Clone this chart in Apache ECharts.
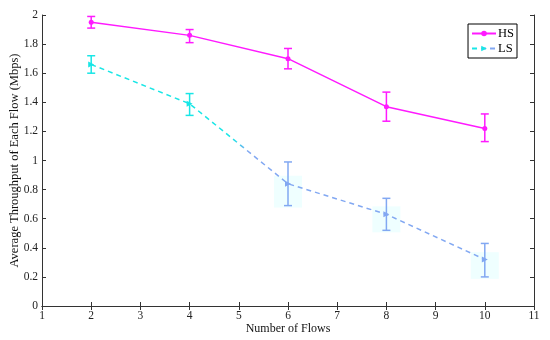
<!DOCTYPE html>
<html><head><meta charset="utf-8">
<script src="https://cdn.jsdelivr.net/npm/echarts@6/dist/echarts.min.js"></script>
<style>html,body{margin:0;padding:0;background:#fff}#c{width:550px;height:340px}</style>
</head><body><div id="c"></div>
<script>
const flows = [2, 4, 6, 8, 10];
const hsMean = [1.95, 1.86, 1.70, 1.37, 1.22];
const hsLow  = [1.91, 1.81, 1.63, 1.27, 1.13];
const hsHigh = [1.99, 1.90, 1.77, 1.47, 1.32];
const lsMean = [1.66, 1.39, 0.84, 0.63, 0.32];
const lsLow  = [1.60, 1.31, 0.69, 0.52, 0.20];
const lsHigh = [1.72, 1.46, 0.99, 0.74, 0.43];
const yTicks = [0, 0.2, 0.4, 0.6, 0.8, 1, 1.2, 1.4, 1.6, 1.8, 2];

const MAG = '#ff1aff', CY = '#19e6e6', BL = '#82a8f2';
const font = 'Liberation Serif, Times New Roman, serif';

function errData(low, high) { return flows.map((x, i) => [x, low[i], high[i]]); }
function makeRender(colorFn, glow) {
  return function (params, api) {
    const x = api.value(0), lo = api.value(1), hi = api.value(2);
    const pLo = api.coord([x, lo]), pHi = api.coord([x, hi]);
    const col = colorFn(x);
    const w = 4;
    const children = [];
    if (glow && x > 5) {
      const mid = api.coord([x, (lo + hi) / 2]);
      children.push({type:'rect', shape:{x:pLo[0]-14, y:mid[1]-8, width:28, height:pLo[1]-mid[1]+10}, style:{fill:'rgba(225,255,255,0.55)'}});
    }
    children.push(
      {type:'line', shape:{x1:pLo[0], y1:pLo[1], x2:pHi[0], y2:pHi[1]}, style:{stroke:col, lineWidth:1.5}},
      {type:'line', shape:{x1:pLo[0]-w, y1:pLo[1], x2:pLo[0]+w, y2:pLo[1]}, style:{stroke:col, lineWidth:1.5}},
      {type:'line', shape:{x1:pHi[0]-w, y1:pHi[1], x2:pHi[0]+w, y2:pHi[1]}, style:{stroke:col, lineWidth:1.5}}
    );
    return {type:'group', children};
  };
}

const lsGrad = new echarts.graphic.LinearGradient(0, 0, 1, 0, [
  {offset:0, color:CY}, {offset:0.36, color:CY}, {offset:0.40, color:BL}, {offset:1, color:BL}
]);

const chart = echarts.init(document.getElementById('c'));
const axisLine = {show:true, lineStyle:{color:'#333', width:1}};
const tick = {inside:true, length:4, lineStyle:{color:'#333'}};
chart.setOption({
  animation:false,
  textStyle:{fontFamily:font},
  grid:{left:42, right:16, top:15, bottom:34, containLabel:false, outerBoundsMode:'none'},
  legend:{
    data:[{name:'HS'},{name:'LS'}],
    orient:'vertical', right:33, top:24,
    itemWidth:24, itemHeight:7, itemGap:2,
    padding:[3,3,3,3],
    borderColor:'#000', borderWidth:1, backgroundColor:'#fff',
    textStyle:{fontFamily:font, fontSize:12.5, color:'#000', padding:[0,0,0,-3]}
  },
  xAxis:[
    {type:'value', min:1, max:11, interval:1, name:'Number of Flows', nameLocation:'middle', nameGap:17,
     nameMoveOverlap:false,
     nameTextStyle:{fontFamily:font, fontSize:12, color:'#111'},
     axisLine, axisTick:tick,
     axisLabel:{fontFamily:font, fontSize:11.5, color:'#222', margin:4}, splitLine:{show:false}},
    {type:'value', min:1, max:11, interval:1, position:'top',
     axisLine, axisTick:tick, axisLabel:{show:false}, splitLine:{show:false}}
  ],
  yAxis:[
    {type:'value', min:0, max:2, interval:0.2, name:'Average Throughput of Each Flow (Mbps)',
     nameLocation:'middle', nameGap:21, nameMoveOverlap:false,
     nameTextStyle:{fontFamily:font, fontSize:12.5, color:'#111'},
     axisLine, axisTick:tick,
     axisLabel:{fontFamily:font, fontSize:11.5, color:'#222', margin:4,
       formatter: v => { const t = yTicks.find(k => Math.abs(k - v) < 1e-6); return t === undefined ? '' : String(t); }},
     splitLine:{show:false}},
    {type:'value', min:0, max:2, interval:0.2, position:'right',
     axisLine, axisTick:tick, axisLabel:{show:false}, splitLine:{show:false}}
  ],
  series:[
    {name:'HS', type:'line', xAxisIndex:0, yAxisIndex:0, data:flows.map((x,i)=>[x,hsMean[i]]), color:MAG,
     symbol:'circle', symbolSize:5, lineStyle:{width:1.5, color:MAG}, itemStyle:{color:MAG}, z:3},
    {name:'LS', type:'line', xAxisIndex:0, yAxisIndex:0, data:flows.map((x,i)=>[x,lsMean[i]]), color:CY,
     symbol:'triangle', symbolRotate:-90, symbolSize:6, lineStyle:{width:1.5, type:[5,4], color:lsGrad},
     itemStyle:{color: p => (p.value && p.value[0] > 5) ? BL : CY}, z:3},
    {type:'custom', xAxisIndex:0, yAxisIndex:0, data:errData(hsLow, hsHigh), renderItem:makeRender(()=>MAG, false), z:2, silent:true},
    {type:'custom', xAxisIndex:0, yAxisIndex:0, data:errData(lsLow, lsHigh), renderItem:makeRender(x => x < 5 ? CY : BL, true), z:1, silent:true}
  ]
});
</script></body></html>
